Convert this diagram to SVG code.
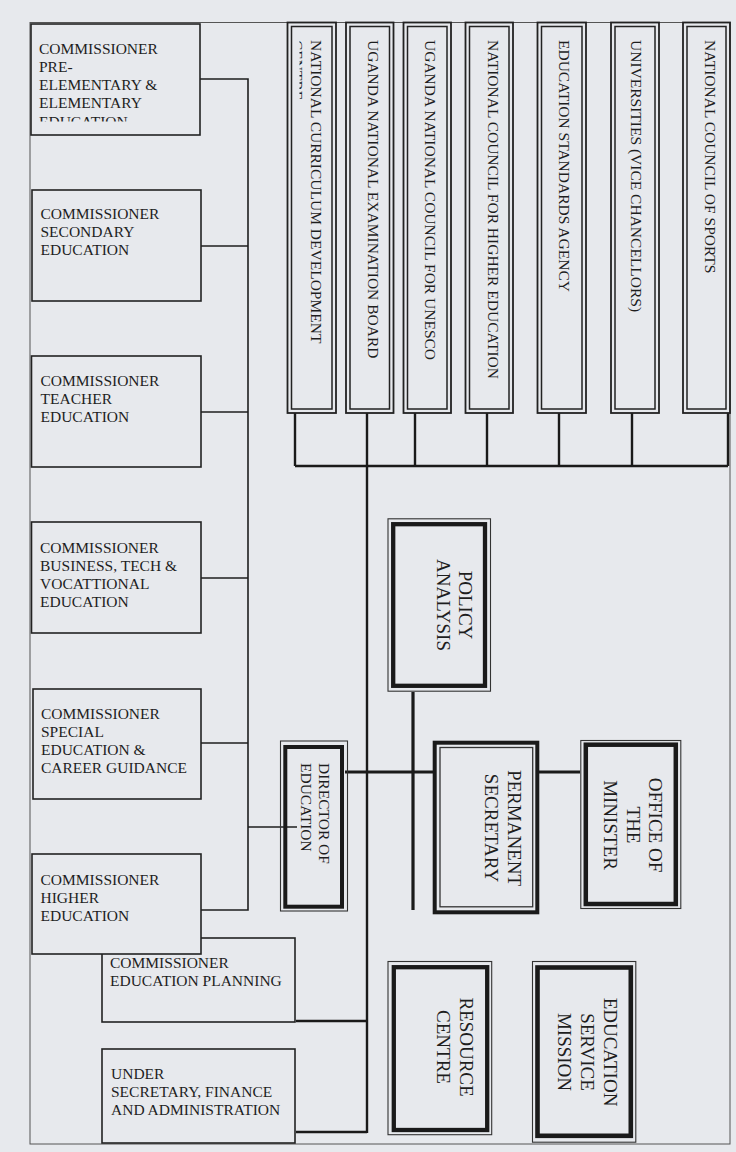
<svg xmlns="http://www.w3.org/2000/svg" width="736" height="1152" viewBox="0 0 736 1152">
<style>
text{font-family:"Liberation Serif","Times New Roman",serif;fill:#1e1e1e}
.s{font-size:15.5px}
.b{font-size:19px}
.box{fill:#e7e9ed;stroke:#222;stroke-width:1.6}
.t1{fill:none;stroke:#222;stroke-width:1.8}
.t2{fill:none;stroke:#222;stroke-width:1.5}
.thin{fill:none;stroke:#333;stroke-width:1.1}
.thick{fill:none;stroke:#1a1a1a;stroke-width:4.3}
.c1{stroke:#1e1e1e;stroke-width:1.6;fill:none}
.c2{stroke:#1a1a1a;stroke-width:2.4;fill:none}
.c3{stroke:#1a1a1a;stroke-width:3.2;fill:none}
</style>
<defs>
<clipPath id="clipA"><rect x="31" y="24" width="169" height="97.5"/></clipPath>
<clipPath id="clipB"><rect x="299.5" y="26" width="34" height="384"/></clipPath>
</defs>
<rect x="0" y="0" width="736" height="1152" fill="#e7e9ed"/>
<rect x="30" y="22.5" width="700" height="1121.5" fill="none" stroke="#555" stroke-width="1"/>

<g id="connectors">
<polyline class="c1" points="200,79 248,79 248,910 201,910"/>
<line class="c1" x1="201" y1="246" x2="248" y2="246"/>
<line class="c1" x1="201" y1="412" x2="248" y2="412"/>
<line class="c1" x1="201" y1="578" x2="248" y2="578"/>
<line class="c1" x1="201" y1="743" x2="248" y2="743"/>
<line class="c1" x1="248" y1="827" x2="297" y2="827"/>
<line class="c2" x1="295" y1="466" x2="728" y2="466"/>
<line class="c2" x1="295" y1="413" x2="295" y2="466"/>
<line class="c2" x1="367" y1="413" x2="367" y2="1133"/>
<line class="c2" x1="415" y1="413" x2="415" y2="466"/>
<line class="c2" x1="487" y1="413" x2="487" y2="466"/>
<line class="c2" x1="559" y1="413" x2="559" y2="466"/>
<line class="c2" x1="632" y1="413" x2="632" y2="466"/>
<line class="c2" x1="728" y1="413" x2="728" y2="466"/>
<line class="c2" x1="296" y1="1021" x2="367" y2="1021"/>
<line class="c2" x1="296" y1="1132" x2="367" y2="1132"/>
<line class="c3" x1="345" y1="772" x2="433" y2="772"/>
<line class="c3" x1="539" y1="772" x2="580" y2="772"/>
<line class="c3" x1="413" y1="692" x2="413" y2="910"/>
</g>

<g id="comm-planning">
<rect class="box" x="102" y="938" width="193" height="84"/>
<text class="s" x="110" y="967.5">COMMISSIONER</text>
<text class="s" x="110" y="985.8">EDUCATION PLANNING</text>
</g>
<g id="comm-pre-elementary">
<rect class="box" x="31" y="24" width="169" height="111"/>
<g clip-path="url(#clipA)">
<text class="s" x="39" y="53.5">COMMISSIONER</text>
<text class="s" x="39" y="71.8">PRE-</text>
<text class="s" x="39" y="90.1">ELEMENTARY &amp;</text>
<text class="s" x="39" y="108.4">ELEMENTARY</text>
<text class="s" x="39" y="126.7">EDUCATION</text>
</g>
</g>
<g id="comm-secondary">
<rect class="box" x="32" y="190" width="169" height="111"/>
<text class="s" x="40.5" y="218.5">COMMISSIONER</text>
<text class="s" x="40.5" y="236.8">SECONDARY</text>
<text class="s" x="40.5" y="255.1">EDUCATION</text>
</g>
<g id="comm-teacher">
<rect class="box" x="31.5" y="356" width="169.5" height="111"/>
<text class="s" x="40.5" y="385.5">COMMISSIONER</text>
<text class="s" x="40.5" y="403.8">TEACHER</text>
<text class="s" x="40.5" y="422.1">EDUCATION</text>
</g>
<g id="comm-business">
<rect class="box" x="31.5" y="522" width="169.5" height="111"/>
<text class="s" x="40" y="552.5">COMMISSIONER</text>
<text class="s" x="40" y="570.8">BUSINESS, TECH &amp;</text>
<text class="s" x="40" y="589.1">VOCATTIONAL</text>
<text class="s" x="40" y="607.4">EDUCATION</text>
</g>
<g id="comm-special">
<rect class="box" x="33" y="689" width="168" height="110"/>
<text class="s" x="41" y="718.5">COMMISSIONER</text>
<text class="s" x="41" y="736.8">SPECIAL</text>
<text class="s" x="41" y="755.1">EDUCATION &amp;</text>
<text class="s" x="41" y="773.4">CAREER GUIDANCE</text>
</g>
<g id="comm-higher">
<rect class="box" x="32" y="854" width="169" height="100"/>
<text class="s" x="40.5" y="884.5">COMMISSIONER</text>
<text class="s" x="40.5" y="902.8">HIGHER</text>
<text class="s" x="40.5" y="921.1">EDUCATION</text>
</g>
<g id="under-secretary">
<rect class="box" x="102" y="1049" width="193" height="94"/>
<text class="s" x="111" y="1078.5">UNDER</text>
<text class="s" x="111" y="1096.8">SECRETARY, FINANCE</text>
<text class="s" x="111" y="1115.1">AND ADMINISTRATION</text>
</g>

<g id="ncdc">
<rect class="t1" x="287.5" y="22.5" width="48.5" height="390.5"/>
<rect class="t2" x="291.5" y="26.5" width="40.5" height="382.5"/>
<text class="s" transform="translate(310.5,40) rotate(90)">NATIONAL CURRICULUM DEVELOPMENT</text>
<g clip-path="url(#clipB)"><text class="s" transform="translate(292.2,40) rotate(90)">CENTRE</text></g>
</g>
<g id="uneb">
<rect class="t1" x="346" y="22.5" width="47.5" height="390.5"/>
<rect class="t2" x="350" y="26.5" width="39.5" height="382.5"/>
<text class="s" transform="translate(367.5,40) rotate(90)">UGANDA NATIONAL EXAMINATION  BOARD</text>
</g>
<g id="unesco">
<rect class="t1" x="403.5" y="22.5" width="47.5" height="390.5"/>
<rect class="t2" x="407.5" y="26.5" width="39.5" height="382.5"/>
<text class="s" transform="translate(424.5,40) rotate(90)">UGANDA NATIONAL COUNCIL FOR UNESCO</text>
</g>
<g id="nche">
<rect class="t1" x="465.5" y="22.5" width="47.5" height="390.5"/>
<rect class="t2" x="469.5" y="26.5" width="39.5" height="382.5"/>
<text class="s" transform="translate(487.5,40) rotate(90)">NATIONAL COUNCIL FOR HIGHER EDUCATION</text>
</g>
<g id="esa">
<rect class="t1" x="537.5" y="22.5" width="48.5" height="390.5"/>
<rect class="t2" x="541.5" y="26.5" width="40.5" height="382.5"/>
<text class="s" transform="translate(558.5,40) rotate(90)">EDUCATION STANDARDS AGENCY</text>
</g>
<g id="universities">
<rect class="t1" x="611" y="22.5" width="48" height="390.5"/>
<rect class="t2" x="615" y="26.5" width="40" height="382.5"/>
<text class="s" transform="translate(630.5,40) rotate(90)">UNIVERSITIES (VICE CHANCELLORS)</text>
</g>
<g id="ncs">
<rect class="t1" x="683" y="22.5" width="47" height="390.5"/>
<rect class="t2" x="687" y="26.5" width="39" height="382.5"/>
<text class="s" transform="translate(704.5,40) rotate(90)">NATIONAL COUNCIL OF SPORTS</text>
</g>

<g id="policy-analysis">
<rect class="thin" x="388" y="518.8" width="102.5" height="172.4"/>
<rect class="thick" x="393.2" y="524.2" width="91.8" height="161.6"/>
<text class="b" text-anchor="middle" transform="translate(459,605) rotate(90)">POLICY</text>
<text class="b" text-anchor="middle" transform="translate(437,605) rotate(90)">ANALYSIS</text>
</g>
<g id="director">
<rect class="thin" x="280.5" y="741" width="67" height="170"/>
<rect class="thick" x="285.3" y="747" width="56.7" height="159.7" style="stroke-width:4"/>
<text class="s" transform="translate(319,763) rotate(90)">DIRECTOR OF</text>
<text class="s" transform="translate(301,763) rotate(90)">EDUCATION</text>
</g>
<g id="permanent-secretary">
<rect class="thick" x="434.7" y="742.7" width="102.6" height="169.6" style="stroke-width:4"/>
<rect class="thin" x="440" y="747.5" width="92.7" height="159.3" style="stroke-width:1.3"/>
<text class="b" text-anchor="middle" transform="translate(507.5,828) rotate(90)">PERMANENT</text>
<text class="b" text-anchor="middle" transform="translate(485,828) rotate(90)">SECRETARY</text>
</g>
<g id="minister">
<rect class="thin" x="580.8" y="740.5" width="100" height="168"/>
<rect class="thick" x="585.8" y="744.7" width="90" height="159.3" style="stroke-width:4.5"/>
<text class="b" text-anchor="middle" transform="translate(649,825) rotate(90)">OFFICE OF</text>
<text class="b" text-anchor="middle" transform="translate(627,825) rotate(90)">THE</text>
<text class="b" text-anchor="middle" transform="translate(604,825) rotate(90)">MINISTER</text>
</g>
<g id="resource-centre">
<rect class="thin" x="388" y="961.5" width="103.7" height="173.2"/>
<rect class="thick" x="393.8" y="967.2" width="93.4" height="162.8"/>
<text class="b" text-anchor="middle" transform="translate(460,1047) rotate(90)">RESOURCE</text>
<text class="b" text-anchor="middle" transform="translate(437,1047) rotate(90)">CENTRE</text>
</g>
<g id="education-service-mission">
<rect class="thin" x="532.5" y="961.5" width="103.3" height="180.7"/>
<rect class="thick" x="537.5" y="967.5" width="93.3" height="168.3" style="stroke-width:4.6"/>
<text class="b" text-anchor="middle" transform="translate(604,1052) rotate(90)">EDUCATION</text>
<text class="b" text-anchor="middle" transform="translate(581,1052) rotate(90)">SERVICE</text>
<text class="b" text-anchor="middle" transform="translate(558,1052) rotate(90)">MISSION</text>
</g>
</svg>
